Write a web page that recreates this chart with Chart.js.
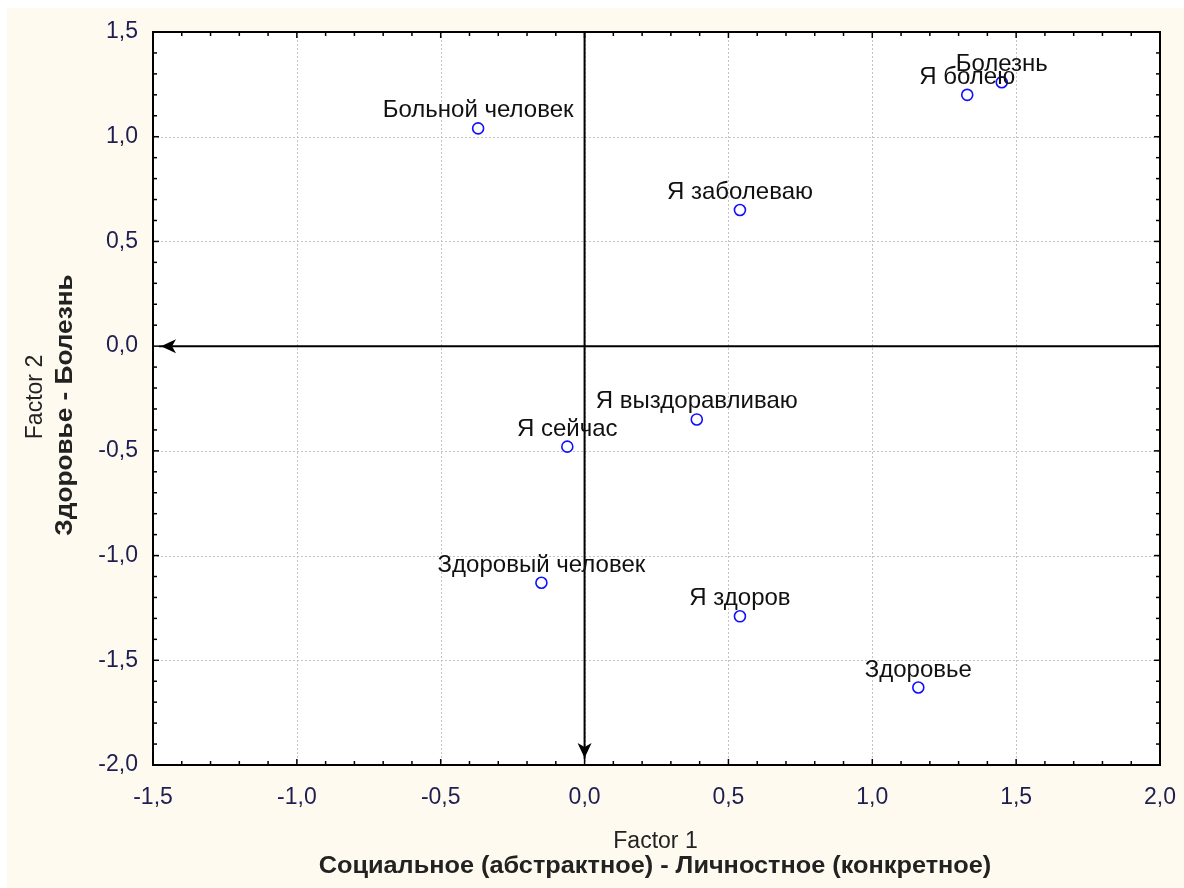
<!DOCTYPE html>
<html>
<head>
<meta charset="utf-8">
<script src="https://cdn.jsdelivr.net/npm/chart.js@4"></script>
<style>
  html, body { margin: 0; padding: 0; background: #ffffff; }
  #frame { position: absolute; left: 7px; top: 8px; width: 1177px; height: 880px; background: #fffaf0; }
  #wrap { position: absolute; left: 0; top: 0; width: 1184px; height: 888px; }
</style>
</head>
<body>
<div id="frame"></div>
<div id="wrap"><canvas id="chart" width="1184" height="888"></canvas></div>
<script>
// Data
const names = ["Больной человек", "Я заболеваю", "Я болею", "Болезнь", "Я выздоравливаю",
               "Я сейчас", "Здоровый человек", "Я здоров", "Здоровье"];
const factor1 = [-0.37, 0.54, 1.33, 1.45, 0.39, -0.06, -0.15, 0.54, 1.16];
const factor2 = [1.04, 0.65, 1.20, 1.26, -0.35, -0.48, -1.13, -1.29, -1.63];
const xTicks = [-1.5, -1.0, -0.5, 0.0, 0.5, 1.0, 1.5, 2.0];
const yTicks = [-2.0, -1.5, -1.0, -0.5, 0.0, 0.5, 1.0, 1.5];

const FONT = "'Liberation Sans', Arial, sans-serif";

function fmt(v) {
    return v.toFixed(1).replace(".", ",");
}

// bold text in the original is a bit wider than Liberation Sans Bold
function wideText(ctx, text, x, y, stretch) {
    ctx.save();
    ctx.translate(x, y);
    ctx.scale(stretch, 1);
    ctx.fillText(text, 0, 0);
    ctx.restore();
}

// white plot area, dotted grid, frame, inward ticks, arrows, labels
const statPlot = {
    id: "statPlot",
    beforeDatasetsDraw(chart) {
        const { ctx, chartArea: a, scales: { x, y } } = chart;
        ctx.save();
        ctx.fillStyle = "#ffffff";
        ctx.fillRect(a.left, a.top, a.right - a.left, a.bottom - a.top);

        // dotted grid
        ctx.strokeStyle = "#c4c4c4";
        ctx.lineWidth = 1;
        ctx.setLineDash([2, 2]);
        xTicks.forEach(v => {
            const px = Math.round(x.getPixelForValue(v)) + 0.5;
            ctx.beginPath(); ctx.moveTo(px, a.top); ctx.lineTo(px, a.bottom); ctx.stroke();
        });
        yTicks.forEach(v => {
            const py = Math.round(y.getPixelForValue(v)) + 0.5;
            ctx.beginPath(); ctx.moveTo(a.left, py); ctx.lineTo(a.right, py); ctx.stroke();
        });
        ctx.setLineDash([]);

        // axes through origin with arrows
        const ox = x.getPixelForValue(0);
        const oy = y.getPixelForValue(0);
        ctx.strokeStyle = "#000";
        ctx.fillStyle = "#000";
        ctx.lineWidth = 2;
        ctx.beginPath(); ctx.moveTo(a.right, oy); ctx.lineTo(a.left + 6, oy); ctx.stroke();
        ctx.beginPath(); ctx.moveTo(ox, a.top); ctx.lineTo(ox, a.bottom - 6); ctx.stroke();

        // left arrowhead
        const tx = a.left + 8;
        ctx.beginPath();
        ctx.moveTo(tx, oy);
        ctx.lineTo(tx + 15, oy - 7);
        ctx.lineTo(tx + 11, oy);
        ctx.lineTo(tx + 15, oy + 7);
        ctx.closePath(); ctx.fill();
        // down arrowhead
        const ty = a.bottom - 7;
        ctx.beginPath();
        ctx.moveTo(ox, ty);
        ctx.lineTo(ox - 7, ty - 15);
        ctx.lineTo(ox, ty - 11);
        ctx.lineTo(ox + 7, ty - 15);
        ctx.closePath(); ctx.fill();

        // frame
        ctx.lineWidth = 2;
        ctx.strokeRect(a.left, a.top, a.right - a.left, a.bottom - a.top);

        // inward ticks (major + minor every 0.1)
        ctx.lineWidth = 1.5;
        for (let i = -15; i <= 20; i++) {
            const px = x.getPixelForValue(i / 10);
            const len = i % 5 === 0 ? 6 : 4;
            ctx.beginPath(); ctx.moveTo(px, a.bottom); ctx.lineTo(px, a.bottom - len); ctx.stroke();
            ctx.beginPath(); ctx.moveTo(px, a.top); ctx.lineTo(px, a.top + len); ctx.stroke();
        }
        for (let i = -20; i <= 15; i++) {
            const py = y.getPixelForValue(i / 10);
            const len = i % 5 === 0 ? 6 : 4;
            ctx.beginPath(); ctx.moveTo(a.left, py); ctx.lineTo(a.left + len, py); ctx.stroke();
            ctx.beginPath(); ctx.moveTo(a.right, py); ctx.lineTo(a.right - len, py); ctx.stroke();
        }
        ctx.restore();
    },
    afterDatasetsDraw(chart) {
        const { ctx, scales: { x, y } } = chart;
        ctx.save();
        ctx.font = "24px " + FONT;
        ctx.fillStyle = "#111";
        ctx.textAlign = "center";
        ctx.textBaseline = "alphabetic";
        names.forEach((n, i) => {
            ctx.fillText(n, x.getPixelForValue(factor1[i]), y.getPixelForValue(factor2[i]) - 11);
        });

        // axis titles
        const a = chart.chartArea;
        const cx = (a.left + a.right) / 2;
        ctx.fillStyle = "#222";
        ctx.font = "23px " + FONT;
        ctx.fillText("Factor 1", cx - 1, 848);
        ctx.font = "bold 23px " + FONT;
        wideText(ctx, "Социальное (абстрактное) - Личностное (конкретное)", 655, 873, 1.1);

        ctx.translate(42, 397);
        ctx.rotate(-Math.PI / 2);
        ctx.font = "23px " + FONT;
        ctx.fillText("Factor 2", 0, 0);
        ctx.font = "bold 23px " + FONT;
        wideText(ctx, "Здоровье - Болезнь", -8, 30, 1.14);
        ctx.restore();
    }
};

const ctx = document.getElementById("chart").getContext("2d");
new Chart(ctx, {
    type: "scatter",
    data: {
        datasets: [{
            label: "Factors",
            data: factor1.map((v, i) => ({ x: v, y: factor2[i] })),
            pointStyle: "circle",
            pointRadius: 5.5,
            pointHoverRadius: 5.5,
            borderColor: "#1010ff",
            backgroundColor: "#ffffff",
            borderWidth: 1.6
        }]
    },
    options: {
        responsive: false,
        animation: false,
        layout: { padding: { left: 0, top: 32, right: 24, bottom: 0 } },
        plugins: {
            legend: { display: false },
            tooltip: { enabled: false }
        },
        scales: {
            x: {
                type: "linear",
                min: -1.5,
                max: 2.0,
                afterBuildTicks: s => { s.ticks = xTicks.map(v => ({ value: v })); },
                afterFit: s => { s.height = 123; s.paddingLeft = 0; s.paddingRight = 0; },
                grid: { display: false, drawTicks: false },
                border: { display: false },
                ticks: {
                    padding: 19,
                    color: "#1e1e50",
                    font: { family: FONT, size: 23 },
                    callback: v => fmt(v)
                }
            },
            y: {
                type: "linear",
                min: -2.0,
                max: 1.5,
                afterBuildTicks: s => { s.ticks = yTicks.map(v => ({ value: v })); },
                afterFit: s => { s.width = 153; s.paddingTop = 0; s.paddingBottom = 0; },
                grid: { display: false, drawTicks: false },
                border: { display: false },
                ticks: {
                    padding: 15,
                    color: "#1e1e50",
                    font: { family: FONT, size: 23 },
                    callback: v => fmt(v)
                }
            }
        }
    },
    plugins: [statPlot]
});
</script>
</body>
</html>
